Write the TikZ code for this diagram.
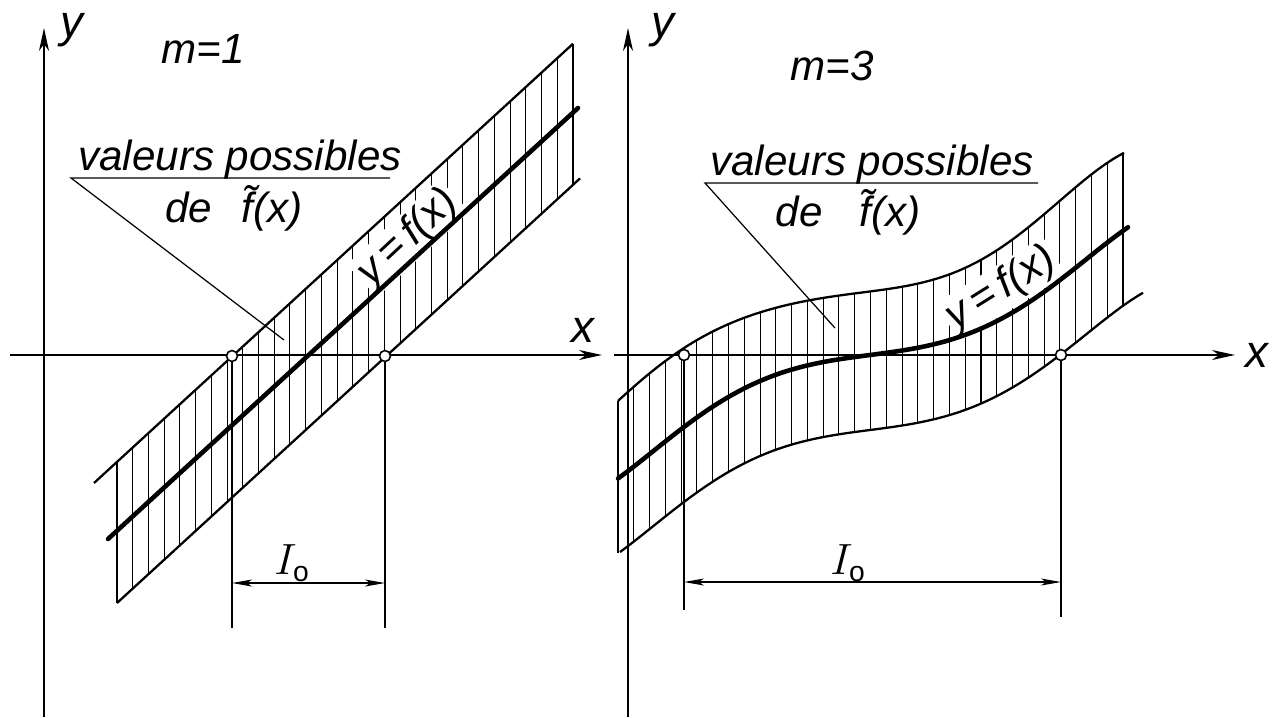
\documentclass[tikz,border=0pt]{standalone}
\usepackage{fontspec}
\setmainfont{Liberation Sans}
\usetikzlibrary{arrows.meta}
\begin{document}
\begin{tikzpicture}[x=0.02cm,y=-0.02cm,
  axisline/.style={line width=1.0pt,-{Stealth[length=0.46cm,width=0.2cm,inset=0.14cm]}},
  bound/.style={line width=1.3pt},
  centre/.style={line width=2.6pt,line cap=round},
  hatchline/.style={line width=0.6pt},
  thinline/.style={line width=0.7pt},
  dimline/.style={line width=0.7pt,{Stealth[length=0.4cm,width=0.14cm,inset=0.1cm]}-{Stealth[length=0.4cm,width=0.14cm,inset=0.1cm]}},
  circ/.style={circle,draw,fill=white,line width=0.9pt,inner sep=0pt,minimum size=0.22cm},
  lbl/.style={font=\fontsize{24}{28}\selectfont\itshape,inner sep=0pt},
  curvelbl/.style={font=\fontsize{24}{28}\selectfont\itshape,inner sep=1.5pt,fill=white},
  axlbl/.style={font=\fontsize{26}{30}\selectfont\itshape,inner sep=0pt},
  dimlbl/.style={font=\fontsize{23}{26}\selectfont,inner sep=0pt},
  declare function={
    gg(\d)=100*(0.13*\d+0.09525*\d*\d*\d-0.006076*\d*\d*\d*\d*\d);
    sl(\d)=0.13+0.28575*\d*\d-0.03038*\d*\d*\d*\d;
    yc(\x)=355-gg((\x-870)/100);
    yu(\x)=yc(\x)-63*sqrt(1+sl((\x-870)/100)^2);
    yl(\x)=yc(\x)+75;
    luL(\x)=483-0.917*(\x-94);
    lcL(\x)=539-0.917*(\x-108);
    llL(\x)=603-0.917*(\x-117);
  }]
\useasboundingbox (0,0) rectangle (1274,717);

% ---------------- left panel ----------------
% hatching
\foreach \i in {0,...,29}{
  \pgfmathsetmacro\xx{117+\i*(573-117)/29}
  \draw[hatchline] (\xx,{luL(\xx)}) -- (\xx,{llL(\xx)});
}
\node[curvelbl,rotate=43] (fL) at (408,238) {y\,=\,f(x)};
% axes
\draw[axisline] (10,355) -- (602,355);
\draw[axisline] (44,717) -- (44,28);
% band
\draw[bound] (94,{luL(94)}) -- (573,{luL(573)});
\draw[bound] (117,{llL(117)}) -- (580,{llL(580)});
\draw[centre] (108,{lcL(108)}) -- (578,{lcL(578)});
% points, extension and dimension lines
\node[circ] (cL1) at (232,356) {};
\node[circ] (cL2) at (385,356) {};
\coordinate (eL1) at (232,628);
\coordinate (eL2) at (385,628);
\draw[thinline] (cL1) -- (eL1);
\draw[thinline] (cL2) -- (eL2);
\coordinate (dL1) at (232,583);
\coordinate (dL2) at (385,583);
\draw[dimline] (dL1) -- (dL2);
\node[dimlbl] (iL) at (292,563) {$I_{\mathrm{o}}$};
% annotation
\coordinate (aL0) at (284,340);
\coordinate (aL1) at (71,178);
\coordinate (aL2) at (390,178);
\draw[thinline] (aL0) -- (aL1) -- (aL2);
\node[lbl,anchor=base] (vL) at (240,170) {valeurs possibles};
\node[lbl,anchor=base] (dL) at (234,222) {de\hspace{0.35cm} \~{f}(x)};
\node[lbl,anchor=base] (mL) at (203,63) {m=1};
\node[axlbl] (yL) at (72,30) {y};
\node[axlbl] (xL) at (583,330) {x};

% ---------------- right panel ----------------
\foreach \i in {0,...,32}{
  \pgfmathsetmacro\xx{618+\i*(1123-618)/32}
  \draw[hatchline] (\xx,{yu(\xx)}) -- (\xx,{yl(\xx)});
}
\node[curvelbl,rotate=32] (fR) at (1001,289) {y\,=\,f(x)};
\draw[axisline] (614,355) -- (1235,355);
\draw[axisline] (628,717) -- (628,28);
\draw[bound] plot[domain=618:1124,samples=90,variable=\t] ({\t},{yu(\t)});
\draw[bound] plot[domain=620:1143,samples=90,variable=\t] ({\t},{yl(\t)});
\draw[centre] plot[domain=618:1128,samples=90,variable=\t] ({\t},{yc(\t)});
\node[circ] (cR1) at (684,355) {};
\node[circ] (cR2) at (1061,355) {};
\coordinate (eR1) at (684,610);
\coordinate (eR2) at (1061,617);
\draw[thinline] (cR1) -- (eR1);
\draw[thinline] (cR2) -- (eR2);
\coordinate (dR1) at (684,582);
\coordinate (dR2) at (1061,582);
\draw[dimline] (dR1) -- (dR2);
\node[dimlbl] (iR) at (848,563) {$I_{\mathrm{o}}$};
\coordinate (aR0) at (835,328);
\coordinate (aR1) at (705,183);
\coordinate (aR2) at (1038,183);
\draw[thinline] (aR0) -- (aR1) -- (aR2);
\node[lbl,anchor=base] (vR) at (872,175) {valeurs possibles};
\node[lbl,anchor=base] (dR) at (848,226) {de\hspace{0.5cm} \~{f}(x)};
\node[lbl,anchor=base] (mR) at (832,80) {m=3};
\node[axlbl] (yR) at (663,30) {y};
\node[axlbl] (xR) at (1257,355) {x};
\end{tikzpicture}
\end{document}
